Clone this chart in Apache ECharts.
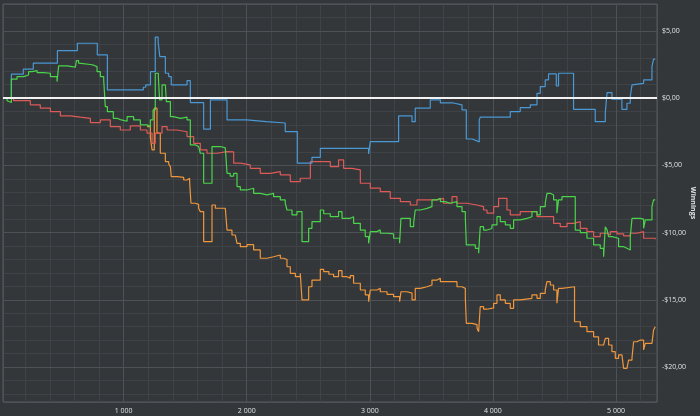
<!DOCTYPE html>
<html>
<head>
<meta charset="utf-8">
<script src="https://cdn.jsdelivr.net/npm/echarts@6/dist/echarts.min.js"></script>
<style>
html,body{margin:0;padding:0;background:#33373a;}
#chart{width:700px;height:416px;}
</style>
</head>
<body>
<div id="chart"></div>
<script>
// Hands range of the x axis and winnings range of the y axis
const handsRange = [20, 5333];
const winningsRange = [-22.6, 7];

// [hand, winnings in $] — blue line
const blueLine = [[23,0],[88,1.78],[185,2.15],[266,2.6],[462,3.53],[624,4.08],[786,3.21],[868,0.61],[1160,0.81],[1180,0.98],[1218,1.97],[1257,4.53],[1280,4.2],[1294,3.09],[1339,1.85],[1366,1.6],[1387,0.98],[1515,1.3],[1542,-0.33],[1650,-2.31],[1705,-0.13],[1840,-1.62],[2000,-1.75],[2160,-1.85],[2313,-2.49],[2411,-4.84],[2530,-4.4],[2598,-3.73],[2990,-4.15],[3004,-3.24],[3234,-1.32],[3343,-1.75],[3369,-0.75],[3491,-0.13],[3573,-0.36],[3678,-0.5],[3749,-0.88],[3784,-3.04],[3830,-3.18],[3871,-3.26],[3889,-1.62],[3897,-1.42],[4141,-1.0],[4222,-0.71],[4304,-0.5],[4358,0.36],[4385,0.86],[4425,1.35],[4452,1.8],[4515,0.9],[4533,1.85],[4655,-0.83],[4831,-1.75],[4913,-1.1],[4927,0.41],[4967,-0.08],[5048,-0.83],[5089,-0.38],[5116,0.11],[5130,0.98],[5140,1.1],[5224,1.35],[5292,2.34],[5305,2.9],[5319,2.9]];

// red line
const redLine = [[23,0],[106,-0.19],[161,-0.19],[242,-0.5],[323,-0.75],[405,-1.0],[486,-1.32],[567,-1.42],[648,-1.5],[730,-1.82],[811,-1.62],[892,-2.12],[973,-2.37],[1054,-2.07],[1136,-2.37],[1190,-2.61],[1231,-3.36],[1257,-2.61],[1312,-2.12],[1353,-2.37],[1434,-2.5],[1515,-2.86],[1569,-3.36],[1623,-3.85],[1677,-4.1],[1759,-3.98],[1840,-4.0],[1894,-4.84],[1948,-4.97],[2029,-5.22],[2110,-5.59],[2192,-5.47],[2273,-5.71],[2354,-6.21],[2435,-5.96],[2517,-4.72],[2598,-4.72],[2679,-5.1],[2746,-4.6],[2787,-5.22],[2855,-5.34],[2923,-6.33],[3004,-6.7],[3085,-6.96],[3166,-7.45],[3248,-7.7],[3329,-7.95],[3383,-7.57],[3465,-7.57],[3546,-7.45],[3599,-7.82],[3668,-7.33],[3708,-7.82],[3789,-7.95],[3871,-8.07],[3924,-8.32],[3952,-8.56],[4006,-8.07],[4046,-7.45],[4114,-8.32],[4141,-8.69],[4222,-8.44],[4304,-8.44],[4358,-8.82],[4439,-8.82],[4493,-9.31],[4547,-9.56],[4602,-9.31],[4655,-9.19],[4710,-9.68],[4764,-9.93],[4818,-10.3],[4872,-10.05],[4927,-10.18],[4954,-9.93],[5008,-10.1],[5062,-10.25],[5116,-10.05],[5170,-9.93],[5224,-10.42],[5319,-10.5]];

// green line
const greenLine = [[23,0],[53,-0.2],[63,-0.33],[88,1.41],[134,1.6],[188,1.72],[228,1.97],[256,2.05],[297,1.9],[350,1.85],[405,1.6],[459,1.23],[472,2.4],[540,2.3],[608,2.35],[616,2.79],[634,2.6],[648,2.5],[730,2.45],[756,2.34],[784,1.97],[811,1.6],[838,1.35],[851,-0.63],[868,-1.0],[916,-1.5],[946,-1.6],[973,-1.72],[1028,-1.38],[1081,-1.62],[1136,-1.99],[1190,-2.12],[1217,-1.62],[1239,-0.88],[1257,1.85],[1282,1.6],[1292,-0.13],[1312,0.98],[1339,0.9],[1347,-0.26],[1380,-1.38],[1404,-1.5],[1461,-1.42],[1515,-1.62],[1542,-3.48],[1582,-3.6],[1609,-3.73],[1623,-4.1],[1650,-6.33],[1718,-3.6],[1786,-3.7],[1826,-3.8],[1840,-5.59],[1866,-5.8],[1894,-5.59],[1921,-6.58],[1948,-6.83],[2002,-6.7],[2056,-7.08],[2110,-7.2],[2165,-7.08],[2218,-7.33],[2273,-7.57],[2313,-7.82],[2327,-8.32],[2368,-8.69],[2408,-8.44],[2449,-10.68],[2503,-9.68],[2530,-9.19],[2598,-8.32],[2625,-8.6],[2679,-8.82],[2746,-8.44],[2774,-8.94],[2841,-8.82],[2868,-9.31],[2923,-9.81],[2963,-10.3],[2990,-10.8],[3004,-9.93],[3058,-9.8],[3085,-10.05],[3140,-10.1],[3193,-10.42],[3242,-10.8],[3253,-8.94],[3288,-8.94],[3329,-9.56],[3356,-9.3],[3369,-8.32],[3410,-8.2],[3465,-8.07],[3505,-7.57],[3546,-7.45],[3573,-7.7],[3613,-7.82],[3654,-7.7],[3708,-8.07],[3749,-8.44],[3776,-8.94],[3784,-10.92],[3830,-10.92],[3857,-11.17],[3884,-11.54],[3897,-9.56],[3924,-9.81],[3952,-9.7],[3992,-9.43],[4033,-8.82],[4060,-9.19],[4101,-9.43],[4141,-9.68],[4168,-9.06],[4222,-8.94],[4277,-8.82],[4317,-8.44],[4358,-8.69],[4385,-8.07],[4425,-7.82],[4439,-7.08],[4466,-7.2],[4493,-7.57],[4520,-8.56],[4533,-7.57],[4561,-7.33],[4669,-9.81],[4710,-10.0],[4764,-10.42],[4818,-10.92],[4872,-11.17],[4899,-11.79],[4913,-9.56],[4927,-9.8],[4940,-10.3],[4967,-10.42],[5021,-11.05],[5062,-11.17],[5089,-11.29],[5116,-10.3],[5130,-8.94],[5197,-9.0],[5224,-9.68],[5238,-9.06],[5292,-8.07],[5305,-7.57],[5319,-7.52]];

// orange line (runs under the green line before hand ~1200)
const orangeLine = [[1190,-2.12],[1217,-2.9],[1231,-3.85],[1249,-0.75],[1271,-2.61],[1298,-4.1],[1339,-4.72],[1366,-4.9],[1380,-5.1],[1387,-5.84],[1434,-5.9],[1488,-6.09],[1515,-5.96],[1536,-6.2],[1547,-7.82],[1582,-7.9],[1609,-8.19],[1623,-8.44],[1650,-10.68],[1718,-7.95],[1745,-8.19],[1826,-8.3],[1840,-9.81],[1880,-10.18],[1907,-10.05],[1921,-10.8],[1948,-11.05],[2002,-10.9],[2056,-11.29],[2110,-11.91],[2165,-11.8],[2218,-11.67],[2273,-11.91],[2300,-12.0],[2327,-12.54],[2354,-13.03],[2395,-13.28],[2435,-13.03],[2449,-15.01],[2503,-14.03],[2530,-13.53],[2598,-12.73],[2625,-12.9],[2667,-13.1],[2706,-13.28],[2746,-12.83],[2774,-13.28],[2815,-13.4],[2841,-13.2],[2868,-13.77],[2923,-14.27],[2963,-14.64],[2990,-15.14],[3004,-14.27],[3058,-14.15],[3085,-14.4],[3140,-14.6],[3193,-14.77],[3242,-15.14],[3253,-14.4],[3302,-14.5],[3343,-15.01],[3369,-14.15],[3410,-14.03],[3465,-13.9],[3505,-13.53],[3546,-13.4],[3573,-13.65],[3668,-13.65],[3708,-14.03],[3749,-14.15],[3776,-14.89],[3784,-16.75],[3830,-16.85],[3871,-17.12],[3884,-17.37],[3897,-15.51],[3924,-15.7],[3952,-15.6],[4006,-15.26],[4033,-14.64],[4060,-15.01],[4101,-15.26],[4141,-15.63],[4168,-15.01],[4222,-14.89],[4317,-14.64],[4358,-14.89],[4385,-14.52],[4425,-14.27],[4439,-13.65],[4466,-13.9],[4493,-14.27],[4520,-15.26],[4533,-14.15],[4561,-14.03],[4663,-16.63],[4710,-17.0],[4764,-17.37],[4818,-17.75],[4858,-18.36],[4899,-18.49],[4913,-17.87],[4940,-18.36],[4967,-18.86],[4994,-19.35],[5021,-19.1],[5048,-19.2],[5062,-20.1],[5089,-20.0],[5102,-19.48],[5130,-19.3],[5143,-18.12],[5170,-17.99],[5197,-18.0],[5224,-18.73],[5238,-18.24],[5292,-18.24],[5305,-17.25],[5319,-17.0]];

const yAxisName = 'Winnings';
const zeroLevel = 0;

const FONT = 'Open Sans, Liberation Sans, sans-serif';
const LABEL = '#e0e0e3';

function fmtMoney(v) {
  if (Math.abs(v % 5) > 1e-9) return '';
  const s = Math.abs(v).toFixed(2).replace('.', ',');
  return (v < 0 ? '-$' : '$') + s;
}
function fmtHands(v) {
  if (v % 1000 !== 0) return '';
  return String(v / 1000) + ' 000';
}

const chart = echarts.init(document.getElementById('chart'), null, {renderer: 'canvas'});
chart.setOption({
  animation: false,
  backgroundColor: '#33373a',
  grid: {left: 3, right: 43, top: 4, bottom: 14, show: true, borderColor: '#585c60', borderWidth: 1,
         backgroundColor: 'transparent', containLabel: false, outerBoundsMode: 'none'},
  xAxis: [
    {type: 'value', min: handsRange[0], max: handsRange[1], splitNumber: 5, position: 'bottom', z: 1,
     axisLine: {show: false}, axisTick: {show: false},
     axisLabel: {formatter: fmtHands, color: LABEL, fontSize: 7, fontFamily: FONT, margin: 5, showMinLabel: false, showMaxLabel: false},
     splitLine: {show: true, lineStyle: {color: '#4e5256', width: 1}}},
    {type: 'value', min: handsRange[0], max: handsRange[1], splitNumber: 27, position: 'bottom', z: 0,
     axisLine: {show: false}, axisTick: {show: false}, axisLabel: {show: false},
     splitLine: {show: true, lineStyle: {color: '#3f4347', width: 1}}}
  ],
  yAxis: [
    {type: 'value', min: winningsRange[0], max: winningsRange[1], splitNumber: 6, position: 'right', z: 1,
     axisLine: {show: false}, axisTick: {show: false},
     axisLabel: {formatter: fmtMoney, color: LABEL, fontSize: 7, fontFamily: FONT, margin: 5, showMinLabel: false, showMaxLabel: false},
     splitLine: {show: true, lineStyle: {color: '#4e5256', width: 1}},
     name: yAxisName, nameLocation: 'middle', nameRotate: -90, nameGap: 32, nameMoveOverlap: false,
     nameTextStyle: {color: LABEL, fontSize: 7, fontWeight: 'bold', fontFamily: FONT}},
    {type: 'value', min: winningsRange[0], max: winningsRange[1], splitNumber: 30, position: 'right', z: 0,
     axisLine: {show: false}, axisTick: {show: false}, axisLabel: {show: false},
     splitLine: {show: true, lineStyle: {color: '#3f4347', width: 1}}}
  ],
  series: [
    {type: 'line', name: 'orange', data: orangeLine, step: 'end', showSymbol: false, symbol: 'none',
     lineStyle: {color: '#f0963c', width: 1.2}, xAxisIndex: 0, yAxisIndex: 0},
    {type: 'line', name: 'red', data: redLine, step: 'end', showSymbol: false, symbol: 'none',
     lineStyle: {color: '#de5a57', width: 1.2}, xAxisIndex: 0, yAxisIndex: 0},
    {type: 'line', name: 'blue', data: blueLine, step: 'end', showSymbol: false, symbol: 'none',
     lineStyle: {color: '#4a98d4', width: 1.2}, xAxisIndex: 0, yAxisIndex: 0},
    {type: 'line', name: 'green', data: greenLine, step: 'end', showSymbol: false, symbol: 'none',
     lineStyle: {color: '#4ad44a', width: 1.2}, xAxisIndex: 0, yAxisIndex: 0,
     markLine: {silent: true, symbol: ['none', 'none'], label: {show: false},
       lineStyle: {color: '#f2f2f2', width: 2, type: 'solid'}, data: [{yAxis: zeroLevel}]}}
  ]
});
</script>
</body>
</html>
